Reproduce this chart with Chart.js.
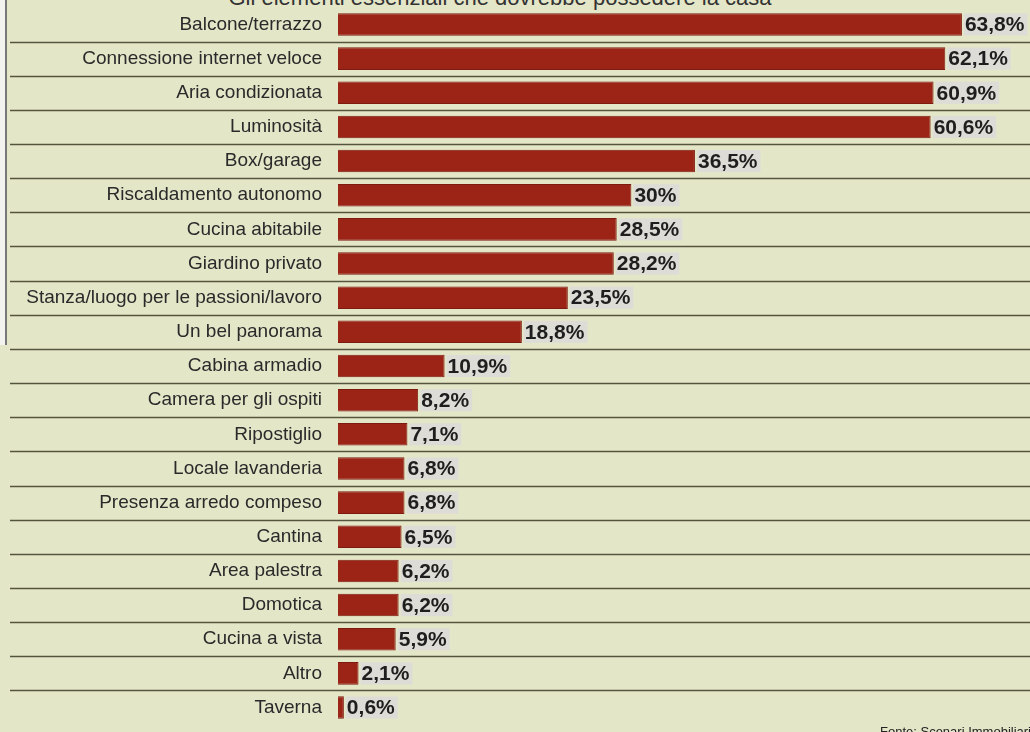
<!DOCTYPE html>
<html>
<head>
<meta charset="utf-8">
<script src="https://cdn.jsdelivr.net/npm/chart.js@4"></script>
<style>
  html, body { margin: 0; padding: 0; }
  body { width: 1030px; height: 732px; background: #e4e6c8; position: relative; overflow: hidden; }
  #wrap { position: absolute; left: 0; top: -20px; width: 1030px; height: 772px; }
  #title { position: absolute; top: -15px; left: 0; width: 1000px; text-align: center;
           font: 22px "Liberation Sans", sans-serif; color: #333; }
  #edge { position: absolute; left: 0; top: 0; width: 5px; height: 345px; background: #f2f2ee;
          border-right: 2px solid #777; }
  #source { position: absolute; left: 880px; bottom: -7px; white-space: nowrap;
            font: 13px "Liberation Sans", sans-serif; color: #222; }
</style>
</head>
<body>
<div id="edge"></div>
<div id="title">Gli elementi essenziali che dovrebbe possedere la casa</div>
<div id="wrap"><canvas id="chart" width="1030" height="772"></canvas></div>
<div id="source">Fonte: Scenari Immobiliari</div>
<script>
const categories = [
    'Balcone/terrazzo', 'Connessione internet veloce', 'Aria condizionata', 'Luminosità',
    'Box/garage', 'Riscaldamento autonomo', 'Cucina abitabile', 'Giardino privato',
    'Stanza/luogo per le passioni/lavoro', 'Un bel panorama', 'Cabina armadio',
    'Camera per gli ospiti', 'Ripostiglio', 'Locale lavanderia', 'Presenza arredo compeso',
    'Cantina', 'Area palestra', 'Domotica', 'Cucina a vista', 'Altro', 'Taverna'
];
const percentages = [63.8, 62.1, 60.9, 60.6, 36.5, 30, 28.5, 28.2, 23.5, 18.8, 10.9,
    8.2, 7.1, 6.8, 6.8, 6.5, 6.2, 6.2, 5.9, 2.1, 0.6];

// lines between the rows, running across the label column too
const rowLines = {
    id: 'rowLines',
    beforeDatasetsDraw(chart) {
        const y = chart.scales.y;
        const ctx = chart.ctx;
        ctx.save();
        ctx.strokeStyle = '#55553f';
        ctx.lineWidth = 1.6;
        for (let i = 0; i < categories.length - 1; i++) {
            const py = Math.round((y.getPixelForValue(i) + y.getPixelForValue(i + 1)) / 2) + 0.5;
            ctx.beginPath();
            ctx.moveTo(10, py);
            ctx.lineTo(chart.width, py);
            ctx.stroke();
        }
        ctx.restore();
    }
};

const valueLabels = {
    id: 'valueLabels',
    afterDatasetsDraw(chart) {
        const ctx = chart.ctx;
        const meta = chart.getDatasetMeta(0);
        ctx.save();
        ctx.font = 'bold 21px "Liberation Sans", Arial, sans-serif';
        ctx.textBaseline = 'middle';
        meta.data.forEach((bar, i) => {
            const txt = String(percentages[i]).replace('.', ',') + '%';
            const w = ctx.measureText(txt).width;
            ctx.fillStyle = '#dddcd6';
            ctx.fillRect(bar.x + 2, bar.y - 11, w + 4, 22);
            ctx.fillStyle = '#1e1e1e';
            ctx.fillText(txt, bar.x + 3, bar.y + 1);
        });
        ctx.restore();
    }
};

new Chart(document.getElementById('chart').getContext('2d'), {
    type: 'bar',
    data: {
        labels: categories,
        datasets: [{
            data: percentages,
            backgroundColor: '#9b2416',
            borderColor: '#7e1b10',
            borderWidth: 1,
            barPercentage: 0.66,
            categoryPercentage: 1
        }]
    },
    options: {
        indexAxis: 'y',
        responsive: false,
        animation: false,
        layout: { padding: { left: 0, right: 27, top: 6, bottom: 8 } },
        plugins: { legend: { display: false }, tooltip: { enabled: false } },
        scales: {
            x: { display: false, min: 0, max: 68 },
            y: {
                afterFit(scale) { scale.width = 338; },
                border: { display: false },
                grid: { display: false, drawTicks: false },
                ticks: {
                    padding: 16,
                    color: '#2a2a2a',
                    font: { family: '"Liberation Sans", sans-serif', size: 19 }
                }
            }
        }
    },
    plugins: [rowLines, valueLabels]
});
</script>
</body>
</html>
